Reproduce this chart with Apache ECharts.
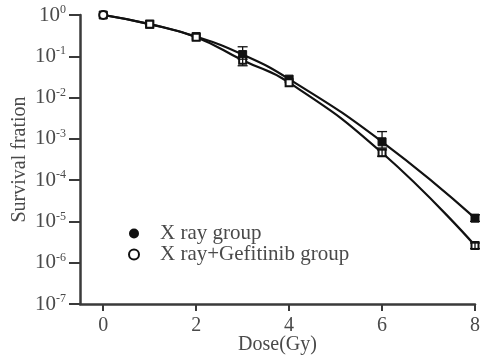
<!DOCTYPE html>
<html>
<head>
<meta charset="utf-8">
<script src="https://cdn.jsdelivr.net/npm/echarts@6/dist/echarts.min.js"></script>
<style>html,body{margin:0;padding:0;background:#fff}#c{width:481px;height:356px}</style>
</head>
<body>
<div id="c"></div>
<script>
var doses = [0, 1, 2, 3, 4, 6, 8];
var xrayValues = [1.0, 0.6, 0.3, 0.11, 0.028, 8.5e-4, 1.2e-5];
var gefValues = [1.0, 0.6, 0.29, 0.08, 0.023, 4.6e-4, 2.6e-6];
var xrayErrLow = [null, null, null, 0.085, null, 6e-4, 1.0e-5];
var xrayErrHigh = [null, null, null, 0.17, null, 1.5e-3, 1.45e-5];
var gefErrLow = [null, null, null, 0.059, null, 3.8e-4, 2.2e-6];
var gefErrHigh = [null, null, null, 0.095, null, 5.4e-4, 3.0e-6];
var xTicks = [0, 2, 4, 6, 8];
var seriesNames = ['X ray group', 'X ray+Gefitinib group'];

var font = 'Liberation Serif, Times New Roman, serif';
var axisColor = '#3a3a3a';
var textColor = '#4a4a4a';

function pts(vals, firstCircle) {
  return doses.map(function (d, i) {
    var item = { value: [d, vals[i]] };
    if (i === 0 && firstCircle) { item.symbol = 'circle'; item.symbolSize = 8; }
    return item;
  });
}
function errs(lo, hi) {
  var out = [];
  doses.forEach(function (d, i) {
    if (lo[i] != null) out.push([d, lo[i], hi[i]]);
  });
  return out;
}
function errRender(params, api) {
  var x = api.value(0);
  var p1 = api.coord([x, api.value(1)]);
  var p2 = api.coord([x, api.value(2)]);
  var w = 5;
  var st = { stroke: '#111', lineWidth: 1.3 };
  return {
    type: 'group',
    children: [
      { type: 'line', shape: { x1: p1[0], y1: p1[1], x2: p2[0], y2: p2[1] }, style: st },
      { type: 'line', shape: { x1: p1[0] - w, y1: p1[1], x2: p1[0] + w, y2: p1[1] }, style: st },
      { type: 'line', shape: { x1: p2[0] - w, y1: p2[1], x2: p2[0] + w, y2: p2[1] }, style: st }
    ]
  };
}

var chart = echarts.init(document.getElementById('c'));
chart.setOption({
  animation: false,
  backgroundColor: '#fff',
  grid: { left: 80, right: 6, top: 15, bottom: 52, containLabel: false, outerBoundsMode: 'none' },
  legend: {
    orient: 'vertical',
    left: 128, top: 223,
    padding: 0,
    itemGap: 0,
    itemWidth: 10, itemHeight: 10,
    textStyle: { fontFamily: font, fontSize: 21, color: textColor, lineHeight: 19, padding: [0, 0, 0, 16] },
    data: [
      { name: seriesNames[0], icon: 'circle', itemStyle: { color: '#111', borderColor: '#111' } },
      { name: seriesNames[1], icon: 'circle', itemStyle: { color: '#fff', borderColor: '#111', borderWidth: 2 } }
    ]
  },
  xAxis: {
    type: 'value',
    min: -0.5, max: 8,
    name: 'Dose(Gy)',
    nameLocation: 'middle',
    nameGap: 31,
    nameMoveOverlap: false,
    nameTextStyle: { fontFamily: font, fontSize: 20, color: textColor, verticalAlign: 'top', lineHeight: 20 },
    axisLine: { show: true, onZero: false, lineStyle: { color: axisColor, width: 2.5 } },
    axisTick: { show: true, length: 7, lineStyle: { color: axisColor, width: 2 }, customValues: xTicks },
    axisLabel: { fontFamily: font, fontSize: 20, color: textColor, margin: 12, customValues: xTicks },
    splitLine: { show: false }
  },
  yAxis: {
    type: 'log',
    logBase: 10,
    min: 1e-7, max: 1,
    name: 'Survival fration',
    nameLocation: 'middle',
    nameGap: 50,
    nameMoveOverlap: false,
    nameTextStyle: { fontFamily: font, fontSize: 20, color: textColor },
    axisLine: { show: true, onZero: false, lineStyle: { color: axisColor, width: 2.5 } },
    axisTick: { show: true, length: 11, lineStyle: { color: axisColor, width: 2 } },
    axisLabel: {
      margin: 14,
      formatter: function (v) {
        var e = Math.round(Math.log10(v));
        return '{b|10}{s|' + e + '}';
      },
      rich: {
        b: { fontFamily: font, fontSize: 21, color: textColor },
        s: { fontFamily: font, fontSize: 12, color: textColor, verticalAlign: 'top', padding: [0, 0, 10, 0] }
      }
    },
    splitLine: { show: false }
  },
  series: [
    {
      name: seriesNames[0],
      type: 'line',
      smooth: true,
      data: pts(xrayValues, false),
      symbol: 'rect',
      symbolSize: 8,
      lineStyle: { color: '#111', width: 2.2 },
      itemStyle: { color: '#111', borderColor: '#111' },
      z: 3
    },
    {
      name: seriesNames[1],
      type: 'line',
      smooth: true,
      data: pts(gefValues, true),
      symbol: 'rect',
      symbolSize: 7,
      lineStyle: { color: '#111', width: 2.2 },
      itemStyle: { color: '#fff', borderColor: '#111', borderWidth: 2 },
      z: 4
    },
    {
      type: 'custom',
      renderItem: errRender,
      data: errs(xrayErrLow, xrayErrHigh),
      encode: { x: 0, y: [1, 2] },
      z: 5,
      silent: true
    },
    {
      type: 'custom',
      renderItem: errRender,
      data: errs(gefErrLow, gefErrHigh),
      encode: { x: 0, y: [1, 2] },
      z: 5,
      silent: true
    }
  ]
});
</script>
</body>
</html>
